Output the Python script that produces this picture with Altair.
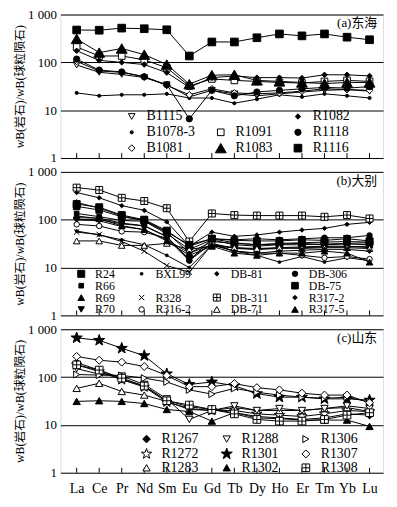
import json
import altair as alt
import pandas as pd

ELEMENTS = ["La", "Ce", "Pr", "Nd", "Sm", "Eu", "Gd", "Tb", "Dy", "Ho", "Er", "Tm", "Yb", "Lu"]

# ---- (a) 东海 ----
A_B1115 = [88, 62, 56, 48, 34, 19, 26, 22, 20, 22, 24, 26, 27, 25]
A_B1078_3 = [23, 20, 21, 21, 22, 18, 18, 14, 17, 21, 19, 22, 20, 18]
A_B1081 = [105, 66, 62, 50, 33, 21, 28, 23, 22, 23, 25, 28, 27, 26]
A_R1091 = [210, 136, 136, 113, 77, 32, 45, 42, 40, 38, 37, 40, 42, 40]
A_R1083 = [310, 160, 195, 145, 90, 35, 54, 55, 42, 40, 38, 36, 38, 38]
A_R1082 = [175, 110, 100, 90, 61, 30, 48, 52, 48, 48, 47, 55, 55, 52]
A_R1118 = [117, 69, 63, 50, 34, 6.6, 26, 20, 24, 26, 28, 30, 29, 31]
A_R1116 = [475, 470, 520, 505, 480, 136, 267, 267, 327, 393, 358, 393, 336, 297]

# ---- (b) 大别 ----
B_R24 = [212, 182, 125, 100, 59, 28, 40, 33, 30, 32, 33, 34, 35, 34]
B_R66 = [135, 116, 96, 93, 51, 24, 38, 30, 28, 30, 30, 31, 32, 33]
B_R69 = [230, 175, 120, 95, 55, 20, 35, 32, 30, 31, 32, 30, 31, 30]
B_R70 = [100, 100, 82, 74, 44, 15, 32, 25, 24, 26, 27, 28, 28, 26]
B_BXL99 = [58, 48, 38, 30, 18, 10, 30, 22, 18, 13, 17, 13, 16, 14]
B_R328 = [55, 49, 35, 22, 11, 8, 30, 26, 24, 25, 26, 27, 27, 28]
B_R316_2 = [80, 74, 57, 55, 41, 14, 32, 22, 20, 20, 18, 16, 17, 15]
B_DB81 = [370, 287, 197, 157, 90, 28, 55, 45, 48, 55, 61, 66, 80, 88]
B_DB311 = [468, 418, 287, 246, 174, 35, 135, 125, 122, 122, 122, 115, 125, 106]
B_DB71 = [36, 36, 29, 29, 32, 24, 28, 26, 25, 26, 25, 26, 26, 25]
B_DB306 = [110, 108, 85, 75, 45, 14, 40, 38, 40, 38, 40, 42, 42, 47]
B_DB75 = [190, 160, 115, 98, 55, 30, 40, 37, 36, 36, 38, 37, 40, 36]
B_R317_2 = [100, 95, 72, 62, 38, 20, 30, 22, 20, 22, 23, 24, 24, 22]
B_R317_5 = [120, 105, 75, 62, 36, 18, 28, 20, 18, 20, 20, 22, 20, 13]

# ---- (c) 山东 ----
C_R1267 = [200, 140, 90, 65, 32, 24, 21, 18, 15, 14, 13, 14, 17, 16]
C_R1272 = [180, 130, 88, 62, 30, 22, 20, 20, 17, 16, 15, 17, 20, 19]
C_R1283 = [58, 74, 50, 42, 31, 21, 20, 23, 20, 20, 20, 22, 23, 19]
C_R1288 = [150, 115, 105, 70, 35, 13, 20, 25, 20, 22, 20, 22, 25, 22]
C_R1301 = [660, 585, 400, 280, 117, 70, 79, 66, 45, 38, 38, 35, 35, 33]
C_R1302 = [31, 32, 31, 28, 21, 19, 12, 18, 14, 13.5, 12.6, 12.6, 12.6, 9.3]
C_R1306 = [113, 110, 108, 95, 79, 54, 44, 58, 48, 42, 38, 36, 38, 30]
C_R1307 = [270, 225, 205, 166, 108, 63, 63, 73, 60, 54, 46, 42, 42, 29]
C_R1308 = [180, 140, 95, 65, 32, 26, 21, 17, 13, 12, 12, 13, 16, 18]

PANEL_A = {"B1115": A_B1115, "B1078-3": A_B1078_3, "B1081": A_B1081, "R1091": A_R1091,
           "R1083": A_R1083, "R1082": A_R1082, "R1118": A_R1118, "R1116": A_R1116}
PANEL_B = {"R24": B_R24, "R66": B_R66, "R69": B_R69, "R70": B_R70, "BXL99": B_BXL99,
           "R328": B_R328, "R316-2": B_R316_2, "DB-81": B_DB81, "DB-311": B_DB311,
           "DB-71": B_DB71, "DB-306": B_DB306, "DB-75": B_DB75, "R317-2": B_R317_2,
           "R317-5": B_R317_5}
PANEL_C = {"R1267": C_R1267, "R1272": C_R1272, "R1283": C_R1283, "R1288": C_R1288,
           "R1301": C_R1301, "R1302": C_R1302, "R1306": C_R1306, "R1307": C_R1307,
           "R1308": C_R1308}

# legend entries, column by column
ORDER_A = ["B1115", "B1078-3", "B1081", " ", "R1091", "R1083", "R1082", "R1118", "R1116"]
ORDER_B = ["R24", "R66", "R69", "R70", "BXL99", " ", "R328", "R316-2",
           "DB-81", "  ", "DB-311", "DB-71", "DB-306", "DB-75", "R317-2", "R317-5"]
ORDER_C = ["R1267", "R1272", "R1283", "R1288", "R1301", "R1302", "R1306", "R1307", "R1308"]

STAR = ("M0,-1L0.235,-0.324L0.951,-0.309L0.380,0.124L0.588,0.809L0,0.4"
        "L-0.588,0.809L-0.380,0.124L-0.951,-0.309L-0.235,-0.324Z")
SQPLUS = "M-1,-1L1,-1L1,1L-1,1Z M0,-1L0,1 M-1,0L1,0"
XMARK = "M-1,-1L1,1 M-1,1L1,-1"
BLANK = "M0,0"

STYLE = {
    " ": (BLANK, "white", 1, "white"), "  ": (BLANK, "white", 1, "white"),
    "B1115": ("triangle-down", "white", 45, "black"), "B1078-3": ("circle", "black", 10, "black"),
    "B1081": ("diamond", "white", 45, "black"), "R1091": ("square", "white", 45, "black"),
    "R1083": ("triangle-up", "black", 120, "black"), "R1082": ("diamond", "black", 30, "black"),
    "R1118": ("circle", "black", 40, "black"), "R1116": ("square", "black", 60, "black"),
    "R24": ("square", "black", 50, "black"), "R66": ("square", "black", 22, "black"),
    "R69": ("triangle-up", "black", 45, "black"), "R70": ("triangle-down", "black", 40, "black"),
    "BXL99": ("circle", "black", 8, "black"), "R328": (XMARK, "white", 30, "black"),
    "R316-2": ("circle", "white", 30, "black"), "DB-81": ("diamond", "black", 20, "black"),
    "DB-311": (SQPLUS, "white", 50, "black"), "DB-71": ("triangle-up", "white", 45, "black"),
    "DB-306": ("circle", "black", 30, "black"), "DB-75": ("square", "black", 45, "black"),
    "R317-2": ("diamond", "black", 20, "black"), "R317-5": ("triangle-up", "black", 45, "black"),
    "R1267": ("diamond", "black", 60, "black"), "R1272": (STAR, "white", 120, "black"),
    "R1283": ("triangle-up", "white", 55, "black"), "R1288": ("triangle-down", "white", 55, "black"),
    "R1301": (STAR, "black", 140, "black"), "R1302": ("triangle-up", "black", 55, "black"),
    "R1306": ("triangle-right", "white", 50, "black"), "R1307": ("diamond", "white", 65, "black"),
    "R1308": (SQPLUS, "white", 60, "black"),
}

FONT = "Liberation Serif, Noto Sans CJK SC"
W, H = 326, 145
YTITLE = "wB(岩石)/wB(球粒陨石)"


def panel(series, order, tag, lx, ly, fsize, rowpad, colpad, show_x):
    rows = []
    for name, vals in series.items():
        for i, v in enumerate(vals):
            rows.append({"series": name, "idx": i, "value": v})
    df = pd.DataFrame(rows)
    ticks_df = pd.DataFrame({"idx": list(range(len(ELEMENTS))), "el": ELEMENTS})

    if show_x:
        xaxis = alt.Axis(values=list(range(len(ELEMENTS))),
                         labelExpr=json.dumps(ELEMENTS) + "[datum.value]",
                         labelFont=FONT, labelFontSize=14, labelColor="black",
                         labelPadding=9, ticks=False, domain=False, grid=False,
                         title=None, labelFlush=False)
    else:
        xaxis = None
    x = alt.X("idx:Q", scale=alt.Scale(domain=[-0.72, 13.6], nice=False, zero=False),
              axis=xaxis)
    y = alt.Y("value:Q",
              scale=alt.Scale(type="log", domain=[1, 1000], nice=False),
              axis=alt.Axis(values=[1, 10, 100, 1000],
                            labelExpr="datum.value == 1000 ? '1 000' : format(datum.value, 'd')",
                            labelFont=FONT, labelFontSize=13, labelColor="black",
                            labelPadding=4, ticks=False, domain=False,
                            grid=True, gridColor="black", gridWidth=1, gridOpacity=1,
                            title=YTITLE, titleFont=FONT, titleFontSize=12,
                            titleFontWeight="normal", titleColor="black",
                            titleX=-34, titleY=H / 2, titleAlign="center"))

    lines = alt.Chart(df).mark_line(color="black", strokeWidth=1).encode(
        x=x, y=y, detail="series:N", order="idx:Q")

    nrows = {9: 3, 16: 4}[len(order)]
    cols = len(order) // nrows
    legend = alt.Legend(title=None, orient="none", legendX=lx, legendY=ly,
                        columns=cols, labelFont=FONT, labelFontSize=fsize,
                        labelColor="black", rowPadding=rowpad, columnPadding=colpad,
                        symbolStrokeWidth=1, labelOffset=8, padding=0)
    dom = order

    def sc(k):
        return alt.Scale(type="ordinal", domain=dom, range=[STYLE[s][k] for s in dom])

    pts = alt.Chart(df).mark_point(filled=True, strokeWidth=1, opacity=1).encode(
        x=x, y=y,
        shape=alt.Shape("series:N", scale=sc(0), legend=legend),
        fill=alt.Fill("series:N", scale=sc(1), legend=legend),
        size=alt.Size("series:N", scale=sc(2), legend=legend),
        stroke=alt.Stroke("series:N", scale=sc(3), legend=legend),
    )

    tk = alt.Chart(ticks_df).mark_rule(color="black", strokeWidth=1).encode(
        x=x, y=alt.value(H), y2=alt.value(H - 5))

    lab = alt.Chart(pd.DataFrame({"t": [tag]})).mark_text(
        align="right", baseline="middle", font=FONT, fontSize=13, color="black").encode(
        x=alt.value(W - 6), y=alt.value(9), text="t:N")

    return alt.layer(tk, lines, pts, lab).properties(width=W, height=H)


pa = panel(PANEL_A, ORDER_A, "(a)东海", 65, 96, 14, 2, 18, False)
pb = panel(PANEL_B, ORDER_B, "(b)大别", 15, 97, 12, 0, 20, False)
pc = panel(PANEL_C, ORDER_C, "(c)山东", 80, 104, 14, 0, 20, True)

chart = alt.vconcat(pa, pb, pc, spacing=14, bounds="flush").resolve_scale(
    shape="independent", fill="independent", size="independent", stroke="independent",
    x="independent", y="independent").resolve_legend(
    shape="independent", fill="independent", size="independent", stroke="independent").properties(
    padding={"left": 5, "top": -3, "right": 5, "bottom": 5}
).configure_view(stroke="black", strokeWidth=1).configure(background="white")

chart.save("out.html", embed_options={"renderer": "svg", "actions": False})
